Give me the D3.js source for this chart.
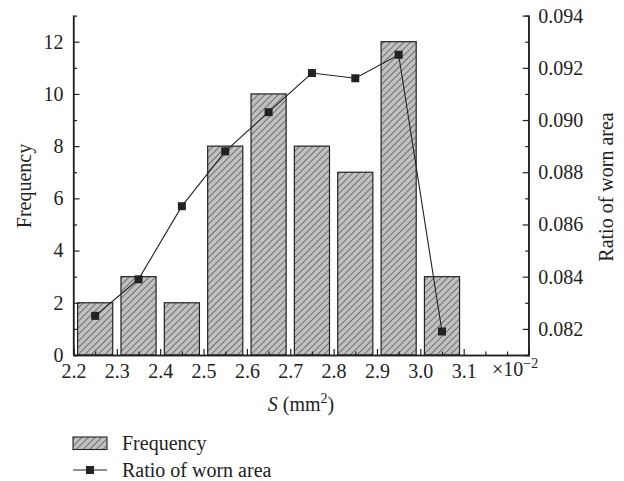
<!DOCTYPE html>
<html><head><meta charset="utf-8">
<script src="https://cdn.jsdelivr.net/npm/d3@7"></script>
<style>body{margin:0;background:#fff}svg text{font-family:"Liberation Serif","DejaVu Serif",serif;fill:#222}</style>
</head><body><svg id="c" width="624" height="481"></svg>
<script>
const sCenters = [2.25, 2.35, 2.45, 2.55, 2.65, 2.75, 2.85, 2.95, 3.05];
const frequency = [2, 3, 2, 8, 10, 8, 7, 12, 3];
const ratioWorn = [0.0825, 0.0839, 0.0867, 0.0888, 0.0903, 0.0918, 0.0916, 0.0925, 0.0819];
const xTicks = [2.2, 2.3, 2.4, 2.5, 2.6, 2.7, 2.8, 2.9, 3.0, 3.1];
const leftTicks = [0, 2, 4, 6, 8, 10, 12];
const rightTicks = [0.082, 0.084, 0.086, 0.088, 0.090, 0.092, 0.094];

const svg = d3.select("#c");
const L = 73.5, R = 528.7, T = 15.6, B = 355;
const x = d3.scaleLinear().domain([2.2, 3.25]).range([L, R]);
const yL = d3.scaleLinear().domain([0, 13]).range([B, T]);
const yR = d3.scaleLinear().domain([0.081, 0.094]).range([B, T]);
const ink = "#222";

const defs = svg.append("defs");
const pw = 4.7;
const pat = defs.append("pattern").attr("id", "hatch").attr("patternUnits", "userSpaceOnUse")
  .attr("width", pw).attr("height", pw).attr("patternTransform", "rotate(45)");
pat.append("rect").attr("width", pw).attr("height", pw).attr("fill", "#c0c0c0");
pat.append("line").attr("x1", 0).attr("y1", 0).attr("x2", 0).attr("y2", pw)
  .attr("stroke", ink).attr("stroke-width", 1.0);

// bars
const bw = x(2.2 + 0.081) - x(2.2);
svg.append("g").selectAll("rect").data(sCenters).join("rect")
  .attr("x", (d) => x(d) - bw / 2).attr("width", bw)
  .attr("y", (d, i) => yL(frequency[i])).attr("height", (d, i) => B - yL(frequency[i]))
  .attr("fill", "url(#hatch)").attr("stroke", ink).attr("stroke-width", 1.2);

// axes
const fs = 20;
const xAxis = d3.axisBottom(x).tickValues(xTicks).tickSize(-6).tickPadding(9).tickFormat(d3.format(".1f"));
const gx = svg.append("g").attr("transform", `translate(0,${B})`).call(xAxis);
const gxm = svg.append("g").attr("transform", `translate(0,${B})`)
  .call(d3.axisBottom(x).tickValues(d3.range(2.25, 3.26, 0.1).concat([3.2])).tickSize(-3.5).tickFormat(""));
const gl = svg.append("g").attr("transform", `translate(${L},0)`)
  .call(d3.axisLeft(yL).tickValues(leftTicks).tickSize(-6).tickPadding(10));
const glm = svg.append("g").attr("transform", `translate(${L},0)`)
  .call(d3.axisLeft(yL).tickValues([1, 3, 5, 7, 9, 11]).tickSize(-3.5).tickFormat(""));
const gr = svg.append("g").attr("transform", `translate(${R},0)`)
  .call(d3.axisRight(yR).tickValues(rightTicks).tickSize(-6).tickPadding(9.5).tickFormat(d3.format(".3f")));
const grm = svg.append("g").attr("transform", `translate(${R},0)`)
  .call(d3.axisRight(yR).tickValues([0.083, 0.085, 0.087, 0.089, 0.091, 0.093]).tickSize(-3.5).tickFormat(""));
[gx, gxm, gl, glm, gr, grm].forEach(g => {
  g.selectAll("path.domain").attr("stroke", ink).attr("stroke-width", 1.3);
  g.selectAll("line").attr("stroke", ink).attr("stroke-width", 1.2);
  g.selectAll("text").attr("font-size", fs).attr("fill", ink)
    .attr("font-family", "'Liberation Serif','DejaVu Serif',serif");
});
gl.select("path.domain").attr("d", `M0,${B}V${T}`);
gr.select("path.domain").attr("d", `M0,${B}V${T}`);

// line
const line = d3.line().x((d, i) => x(sCenters[i])).y((d) => yR(d));
svg.append("path").datum(ratioWorn).attr("d", line).attr("fill", "none")
  .attr("stroke", ink).attr("stroke-width", 1.1);
svg.append("g").selectAll("rect").data(ratioWorn).join("rect")
  .attr("x", (d, i) => x(sCenters[i]) - 4).attr("y", (d) => yR(d) - 4)
  .attr("width", 8).attr("height", 8).attr("fill", ink);

// multiplier
const mt = svg.append("text").attr("x", 492).attr("y", 376).attr("font-size", fs);
mt.append("tspan").text("×10");
mt.append("tspan").attr("dy", -8).attr("font-size", 14).text("−2");

// titles
const xt = svg.append("text").attr("x", 301).attr("y", 411).attr("text-anchor", "middle").attr("font-size", fs);
xt.append("tspan").attr("font-style", "italic").text("S");
xt.append("tspan").text(" (mm");
xt.append("tspan").attr("dy", -8).attr("font-size", 14).text("2");
xt.append("tspan").attr("dy", 8).text(")");
svg.append("text").attr("transform", `translate(31,186) rotate(-90)`).attr("text-anchor", "middle")
  .attr("font-size", fs).text("Frequency");
svg.append("text").attr("transform", `translate(613,187) rotate(-90)`).attr("text-anchor", "middle")
  .attr("font-size", fs).text("Ratio of worn area");

// legend
const lg = svg.append("g");
lg.append("rect").attr("x", 73).attr("y", 437).attr("width", 34).attr("height", 12.5)
  .attr("fill", "url(#hatch)").attr("stroke", ink).attr("stroke-width", 1.1);
lg.append("text").attr("x", 122).attr("y", 450).attr("font-size", fs).text("Frequency");
lg.append("line").attr("x1", 73).attr("x2", 107).attr("y1", 470).attr("y2", 470).attr("stroke", ink).attr("stroke-width", 1.2);
lg.append("rect").attr("x", 86).attr("y", 466).attr("width", 8).attr("height", 8).attr("fill", ink);
lg.append("text").attr("x", 122).attr("y", 477).attr("font-size", fs).text("Ratio of worn area");
</script></body></html>
